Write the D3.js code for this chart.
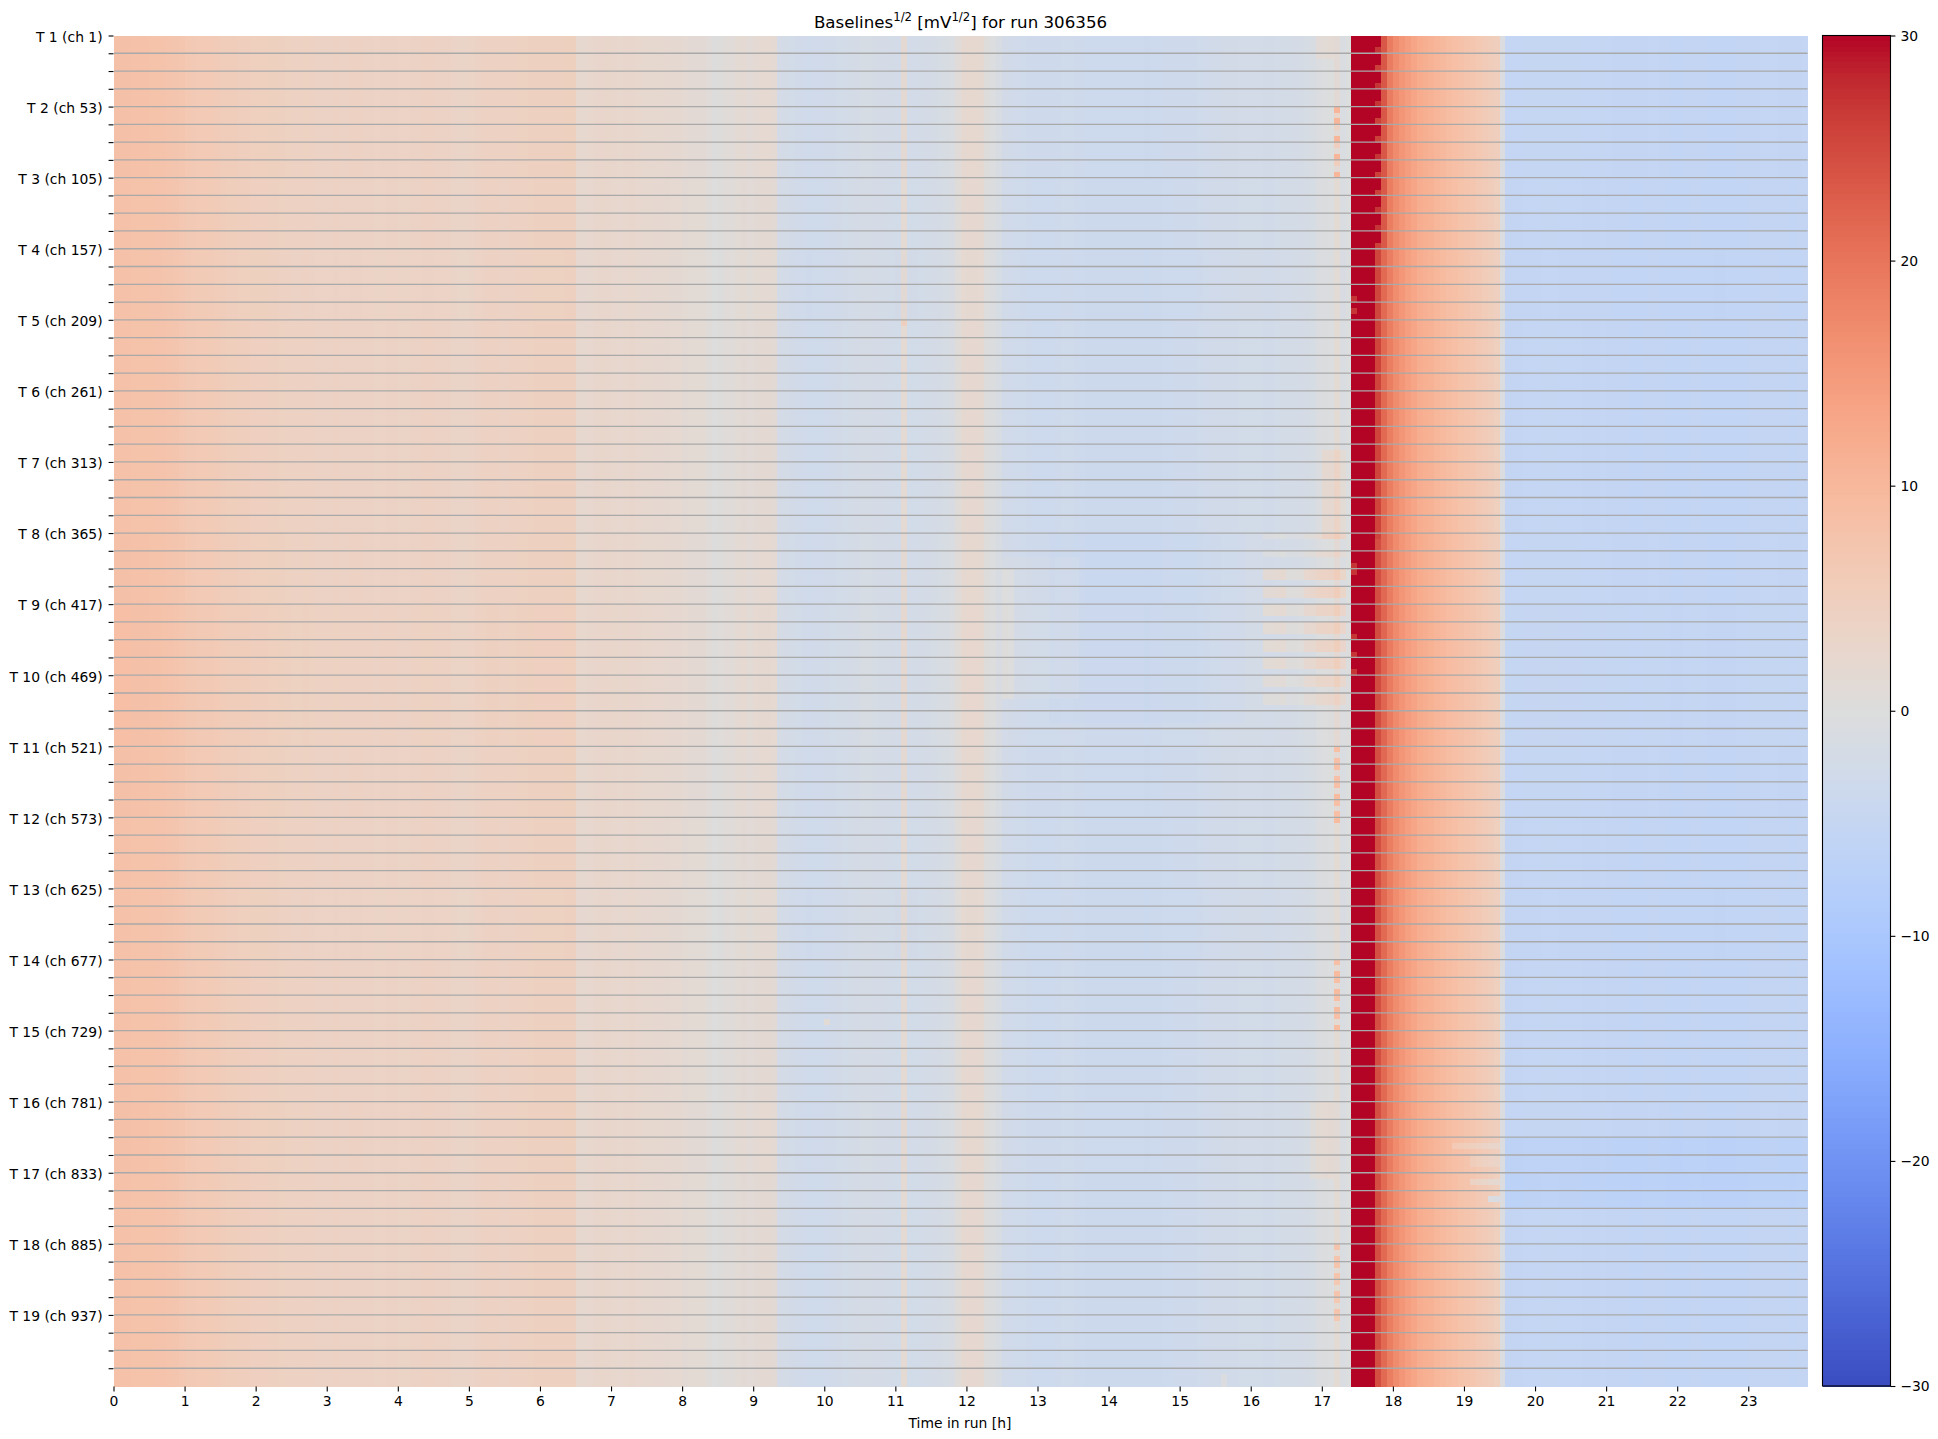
<!DOCTYPE html>
<html><head><meta charset="utf-8">
<script src="https://cdn.jsdelivr.net/npm/d3@7"></script>
<style>html,body{margin:0;padding:0;background:#fff}svg{display:block}text{font-family:"DejaVu Sans",sans-serif;fill:#000}</style>
</head><body><svg id="c" width="1938" height="1439"></svg>
<script>
// ---- data ----
const runId = "306356";
const tubeLabels = ["T 1 (ch 1)","T 2 (ch 53)","T 3 (ch 105)","T 4 (ch 157)","T 5 (ch 209)","T 6 (ch 261)","T 7 (ch 313)","T 8 (ch 365)","T 9 (ch 417)","T 10 (ch 469)","T 11 (ch 521)","T 12 (ch 573)","T 13 (ch 625)","T 14 (ch 677)","T 15 (ch 729)","T 16 (ch 781)","T 17 (ch 833)","T 18 (ch 885)","T 19 (ch 937)"];
const hourTicks = [0,1,2,3,4,5,6,7,8,9,10,11,12,13,14,15,16,17,18,19,20,21,22,23];
const colorTicks = [-30,-20,-10,0,10,20,30];
// typical baseline per 5-minute bin
const timeProfile = [
8.2,8.2,8.2,8,8,8,7.9,7.8,7.7,7.5,
7.3,6.9,6.4,6.3,6.1,6.1,6,5.8,5.4,5.2,
5.2,5,5,4.8,4.8,4.8,4.6,4.6,4.4,4.3,
4.1,4.1,4.3,4.1,3.9,3.9,3.9,4.1,3.9,3.9,
4,4,3.9,3.9,3.7,3.8,3.9,3.9,3.7,3.7,
3.9,3.9,4.1,4.1,3.9,3.9,3.9,3.4,3.3,3.3,
3.5,3.9,4.1,4.2,4.2,4,4,4.1,4.3,4.3,
4.4,4.5,4.5,4.5,4.5,4.5,4.6,4.6,2.2,2.2,
2.4,2.6,2.8,2.7,2.5,2.4,2.5,2.6,2.4,2.2,
2.2,2.1,2.1,2,1.8,1.8,1.5,1.4,1.4,1.4,
0.6,0,0.2,0.8,0.6,1.3,1.5,1,1.5,1.7,
1.7,1.5,-2,-2.2,-2.5,-2.7,-2.9,-3.1,-3,-3,
-2.8,-2.7,-2.5,-2.4,-2.2,-2,-1.7,-1.7,-1.9,-2,
-2.1,-2.3,-2.4,1.6,-2.4,-2.4,-2.3,-2.1,-1.9,-1.7,
-1.5,-1,0.6,1.9,2.1,2.1,1.9,0.1,-0.3,-1.4,
-2.6,-2.8,-3,-3.1,-3.3,-3.4,-3.4,-3.4,-3.4,-3.3,
-3.1,-3.1,-3.3,-3.4,-3.6,-3.6,-3.6,-3.6,-3.6,-3.6,
-3.6,-3.6,-3.6,-3.6,-3.7,-3.6,-3.6,-3.4,-3.4,-3.3,
-3.3,-3.3,-3.3,-3.1,-2.9,-2.7,-2.7,-2.6,-2.6,-2.6,
-2.4,-2.4,-2.4,-2.4,-2.6,-2.6,-2.4,-2.2,-2.2,-2.1,
-1.9,-1.7,-1.5,-0.5,-0.3,-0.2,1.4,-0.9,-0.2,30,
30,30,30,24.5,21.5,19,17,15.5,14.2,13.2,
12,11.5,11,10.2,9.6,9,8.5,8,7.5,7,
6.4,5.8,5.3,4.9,-0.7,-5.3,-5.3,-5.3,-5.2,-5.2,
-5.2,-5.1,-5.1,-5.1,-5.2,-5.2,-5.2,-5.2,-5.3,-5.3,
-5.3,-5.2,-5.3,-5.4,-5.4,-5.4,-5.5,-5.5,-5.4,-5.3,
-5.3,-5.4,-5.5,-5.6,-5.6,-5.5,-5.4,-5.4,-5.5,-5.6,
-5.7,-5.7,-5.6,-5.6,-5.5,-5.5,-5.4,-5.4,-5.3,-5.3,
-5.3,-5.4,-5.4,-5.5,-5.4,-5.3];
// per-tube offset of the whole row block
const tubeShift = [0.1,0.1,0,-0.1,0,0,0,0.1,0.3,0.3,0.1,0,-0.1,0,0,0.1,0,0,0];
// regional deviations: first row, last row, first bin, last bin, offset
const patchRow0 = [0,  70, 88, 90, 84,  180, 186, 187, 189, 193, 196, 0,  0,  36, 48, 166, 226];
const patchRow1 = [3,  84,111,111, 115, 192, 197, 187, 190, 193, 196, 35, 35, 84, 48, 166, 227];
const patchCol0 = [203,204,150,150,158, 202, 235, 226, 229, 229, 232, 213,214,213,133, 120, 187];
const patchCol1 = [205,207,162,151,190, 205, 285, 233, 233, 233, 233, 213,214,213,133, 120, 187];
const patchAmount=[1.5,2.2,0.7,1.8,-0.6,1.8,-1.3, -2.4, -1.6, -3, -6, 5.5, 2, 1, 3,  4,  2];
// banded warm stretch ahead of the red band, tubes 8 to 10
const bandRows = [84,87,90,91,93,94,96,97,99,100,102,103,105,106,108,109,111,112];
const bandAmount = [2,2,4,4,4,4,3.5,3.5,3.5,3.5,3.5,3.5,3.5,3.5,3,3,2.5,2.5];
const bandCol0 = [194,198,201];
const bandCol1 = [197,200,207];
const bandScale = [1,0.6,1];
// the orange-pink spots in the bin just before the red band
const spotBin = 206;
const spotRows = [12,13,14,15,17,18,20,21,23,120,122,123,125,126,128,129,131,132,156,158,159,161,162,164,165,167,204,206,207,209,210,212,213,215,216];
const spotVals = [10.5,3,10.5,4,10.5,5,10.5,5,10.5,8.5,8.5,8.5,8.5,8.5,9.5,8.5,8.5,9.5,8.5,9.5,8.5,9.5,8.5,9.5,8.5,9.5,7.5,7.5,7.5,7.5,6.5,7.5,6.5,7.5,6.5];
// rows whose red band carries a darker first or last cell
const edgeRows = [2,5,8,11,14,17,20,23,26,29,32,35];
const edgeVals = [27,26,27,27,26,26,27,26,26,27,27,26];
const leadRows = [44,46,89,90,101,104,107];
const leadVals = [27,27,27,27,27,27,27];

// ---- layout ----
const nCols = timeProfile.length, nRows = 228, nChannels = 988;
const plotL = 113.5, plotR = 1807.5, plotT = 35.5, plotB = 1386, cbL = 1822.5, cbR = 1890.5;

// ---- matplotlib coolwarm ----
const cwR=[0.2298057,0.26623388,0.30386891,0.342804478,0.38301334,0.424369608,0.46666708,0.509635204,0.552953156,0.596262162,0.639176211,0.681291281,0.722193294,0.761464949,0.798691636,0.833466556,0.865395197,0.897787179,0.924127593,0.944468518,0.958852946,0.96732803,0.969954137,0.966811177,0.958003065,0.943660866,0.923944917,0.89904617,0.869186849,0.834620542,0.795631745,0.752534934,0.705673158];
const cwG=[0.298717966,0.353094838,0.406535296,0.458757618,0.50941904,0.558148092,0.604562568,0.648280772,0.688944833,0.726149107,0.759599947,0.788964712,0.813952739,0.834302879,0.849786142,0.860207984,0.86541021,0.848937047,0.827384882,0.800927443,0.769767752,0.734132809,0.694266682,0.650421156,0.602842431,0.551750968,0.49730856,0.439559467,0.378313092,0.312874446,0.24128379,0.157246067,0.01555616];
const cwB=[0.753683153,0.801466763,0.84495867,0.883725899,0.917387822,0.945619588,0.968154911,0.98478814,0.995375608,0.999836203,0.998151185,0.990363227,0.976574709,0.956945269,0.931688648,0.901068838,0.865395561,0.820880546,0.774508472,0.726736146,0.678007945,0.628751763,0.579375448,0.530263762,0.481775914,0.434243684,0.387970225,0.343229596,0.300267182,0.259301199,0.220525627,0.184115123,0.150232812];
const cwDomain = d3.range(33).map(i=>-30+i*60/32);
const ch = a=>d3.scaleLinear().domain(cwDomain).range(a).clamp(true);
const fr=ch(cwR),fg=ch(cwG),fb=ch(cwB);
const colorOf = v=>`rgb(${Math.round(fr(v)*255)},${Math.round(fg(v)*255)},${Math.round(fb(v)*255)})`;

// ---- assemble matrix ----
const matrix = d3.range(nRows).map(r=>{
  const t = Math.floor(r/12);
  return timeProfile.map((v,c)=> (v>=30||c===234)? v : v+tubeShift[t]);
});
patchRow0.forEach((r0,i)=>{
  for(let r=r0;r<=patchRow1[i];r++) for(let c=patchCol0[i];c<=patchCol1[i];c++) matrix[r][c]+=patchAmount[i];
});
bandRows.forEach((r,i)=>bandCol0.forEach((c0,j)=>{
  for(let c=c0;c<=bandCol1[j];c++) matrix[r][c]+=bandAmount[i]*bandScale[j];
}));
spotRows.forEach((r,i)=>{matrix[r][spotBin]=spotVals[i];});
edgeRows.forEach((r,i)=>{matrix[r][213]=edgeVals[i];});
leadRows.forEach((r,i)=>{matrix[r][209]=leadVals[i];});
const cells=[];
matrix.forEach((row,r)=>row.forEach((v,c)=>cells.push({r,c,v})));

// ---- scales ----
const xHour = d3.scaleLinear().domain([0,nCols/12]).range([plotL,plotR]);
const yCh = d3.scaleLinear().domain([1,nChannels+1]).range([plotT,plotB]);
const yRow = d3.scaleLinear().domain([0,nRows]).range([plotT,plotB]);
const yCb = d3.scaleLinear().domain([-30,30]).range([plotB,plotT]);

const svg = d3.select("#c");
svg.append("g").attr("shape-rendering","crispEdges").selectAll("rect").data(cells).join("rect")
  .attr("x",d=>xHour(d.c/12)).attr("y",d=>yRow(d.r))
  .attr("width",d=>xHour((d.c+1)/12)-xHour(d.c/12)+0.5).attr("height",d=>yRow(d.r+1)-yRow(d.r)+0.5)
  .attr("fill",d=>colorOf(d.v));

// channel separators
const chTicks = d3.range(0,76).map(i=>1+13*i);
svg.append("g").selectAll("line").data(chTicks.slice(1)).join("line")
  .attr("x1",plotL+0.5).attr("x2",plotR).attr("y1",d=>yCh(d)).attr("y2",d=>yCh(d))
  .attr("stroke","#a9a9a9").attr("stroke-width",1.3);

// axes
const yAxis = d3.axisLeft(yCh).tickValues(chTicks).tickSize(4.9).tickPadding(6)
  .tickFormat((d,i)=> i%4===0 ? tubeLabels[i/4] : "");
const ga = svg.append("g").attr("transform",`translate(${plotL},0)`).call(yAxis);
ga.select(".domain").remove();
ga.selectAll("text").attr("dy","0.42em");
const xAxis = d3.axisBottom(xHour).tickValues(hourTicks).tickSize(4.9).tickPadding(5).tickFormat(d3.format("d"));
const gx = svg.append("g").attr("transform",`translate(0,${plotB+0.5})`).call(xAxis);
gx.select(".domain").remove();
[ga,gx].forEach(g=>{g.selectAll("line").attr("stroke","#000").attr("stroke-width",1.1);
  g.selectAll("text").attr("font-size",13.9).attr("font-family","DejaVu Sans");});

// colour bar
const cbLevels = d3.range(256).map(i=>-30+(i+0.5)*60/256);
svg.append("g").attr("shape-rendering","crispEdges").selectAll("rect").data(cbLevels).join("rect")
  .attr("x",cbL).attr("width",cbR-cbL).attr("y",d=>yCb(d+30/256)).attr("height",yCb(-30)-yCb(-30+60/256)+0.6).attr("fill",d=>colorOf(d));
const cbAxis = d3.axisRight(yCb).tickValues(colorTicks).tickSize(4.9).tickPadding(5).tickFormat(d=>String(d).replace("-","\u2212"));
const gc = svg.append("g").attr("transform",`translate(${cbR},0)`).call(cbAxis);
gc.select(".domain").remove();
gc.selectAll("line").attr("stroke","#000").attr("stroke-width",1.1);
gc.selectAll("text").attr("font-size",13.9).attr("font-family","DejaVu Sans").attr("dy","0.34em");
svg.append("rect").attr("x",cbL).attr("y",plotT).attr("width",cbR-cbL).attr("height",plotB-plotT)
  .attr("fill","none").attr("stroke","#000").attr("stroke-width",1.1);

// titles
const title = svg.append("text").attr("x",960.5).attr("y",27.5).attr("text-anchor","middle").attr("font-size",16.67);
title.append("tspan").text("Baselines");
title.append("tspan").text("1/2").attr("font-size",11.7).attr("dy",-6.5);
title.append("tspan").text(" [mV").attr("dy",6.5);
title.append("tspan").text("1/2").attr("font-size",11.7).attr("dy",-6.5);
title.append("tspan").text("] for run "+runId).attr("dy",6.5);
svg.append("text").attr("x",960).attr("y",1427.5).attr("text-anchor","middle").attr("font-size",13.9).text("Time in run [h]");
</script></body></html>
